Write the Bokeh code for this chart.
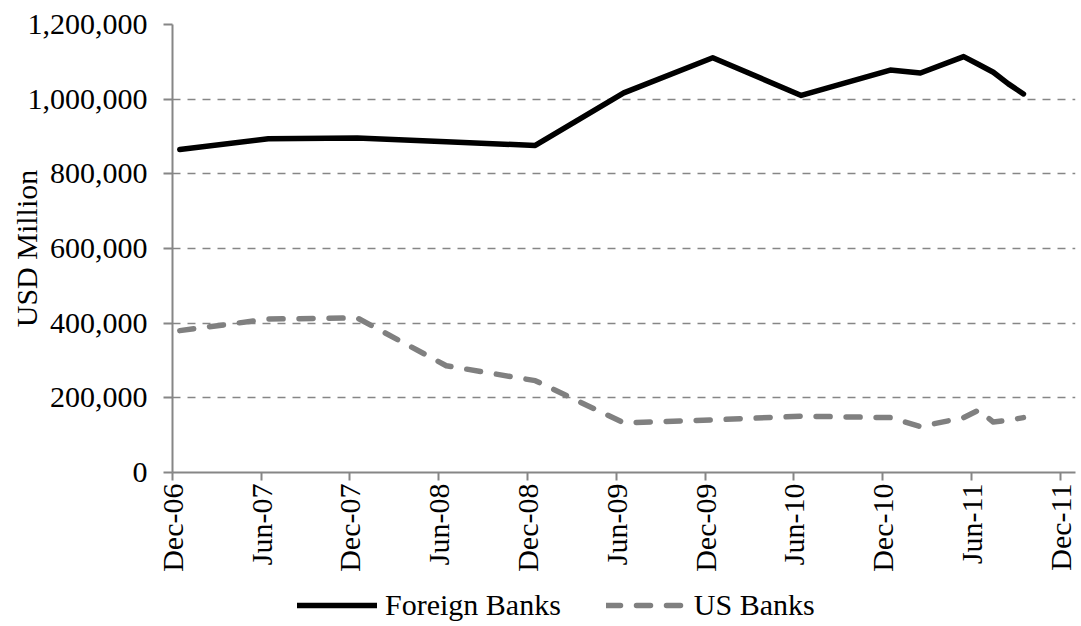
import pandas as pd
from math import pi
from bokeh.plotting import figure
from bokeh.layouts import column
from bokeh.models import (ColumnDataSource, FixedTicker, NumeralTickFormatter,
                          DatetimeTickFormatter, Range1d, Legend, LegendItem)
from bokeh.embed import file_html
from bokeh.resources import INLINE

# ---- data (USD million) ----
months = ["2006-12", "2007-06", "2007-12", "2008-06", "2008-12", "2009-06",
          "2009-12", "2010-06", "2010-12", "2011-02", "2011-05", "2011-06",
          "2011-07", "2011-08", "2011-09"]
foreign_banks = [865000, 894000, 896000, 886000, 876000, 1017000,
                 1111000, 1010000, 1078000, 1070000, 1114000, 1093000,
                 1072000, 1041000, 1014000]
us_banks = [380000, 411000, 414000, 286000, 246000, 133000,
            141000, 151000, 147000, 123000, 147000, 167000,
            135000, 140000, 147000]
tick_months = ["2006-12", "2007-06", "2007-12", "2008-06", "2008-12", "2009-06",
               "2009-12", "2010-06", "2010-12", "2011-06", "2011-12"]
y_ticks = [0, 200000, 400000, 600000, 800000, 1000000, 1200000]
series_names = ["Foreign Banks", "US Banks"]
series_cols = ["fb", "us"]

dates = pd.to_datetime([m + "-16" for m in months])
src = ColumnDataSource(dict(x=dates, fb=foreign_banks, us=us_banks))

FONT = "Liberation Serif"
FS = "30px"
GRAY = "#868686"
STYLES = [dict(line_color="black", line_width=5.5, line_join="round", line_cap="round"),
          dict(line_color="#808080", line_width=5.5, line_dash="14 16",
               line_join="round", line_cap="round")]

p = figure(x_axis_type="datetime", output_backend="svg", toolbar_location=None,
           width=1081, height=580,
           min_border_left=172, min_border_top=24, min_border_right=6,
           min_border_bottom=108)
p.x_range = Range1d(pd.Timestamp("2006-12-01"), pd.Timestamp("2012-01-01"))
p.y_range = Range1d(0, 1200000)
p.outline_line_color = None
p.background_fill_color = "white"
p.border_fill_color = "white"

for col, st in zip(series_cols, STYLES):
    p.line("x", col, source=src, **st)

# axes
tick_ms = [pd.Timestamp(m + "-01").value / 1e6 for m in tick_months]
p.xaxis.ticker = FixedTicker(ticks=tick_ms)
fmt = "%b-%y"
p.xaxis.formatter = DatetimeTickFormatter(days=fmt, months=fmt, years=fmt,
                                          hours=fmt, minutes=fmt)
p.xaxis.major_label_orientation = pi / 2
p.yaxis.ticker = FixedTicker(ticks=y_ticks)
p.yaxis.formatter = NumeralTickFormatter(format="0,0")
p.yaxis.axis_label = "USD Million"

for ax in (p.xaxis, p.yaxis):
    ax.axis_line_color = GRAY
    ax.axis_line_width = 2
    ax.major_tick_line_color = GRAY
    ax.major_tick_line_width = 2
    ax.major_tick_in = 0
    ax.minor_tick_line_color = None
    ax.major_label_text_font = FONT
    ax.major_label_text_font_size = FS
    ax.major_label_text_color = "black"
    ax.axis_label_text_font = FONT
    ax.axis_label_text_font_size = FS
    ax.axis_label_text_font_style = "normal"
    ax.axis_label_text_color = "black"
p.xaxis.major_tick_out = 8
p.yaxis.major_tick_out = 9
p.xaxis.major_label_standoff = 3
p.yaxis.major_label_standoff = 16
p.yaxis.axis_label_standoff = -18

p.xgrid.grid_line_color = None
p.ygrid.grid_line_color = GRAY
p.ygrid.grid_line_width = 1.5
p.ygrid.grid_line_dash = "8 7"

# legend strip below the chart (its lines fall outside this strip's ranges)
lp = figure(output_backend="svg", toolbar_location=None, width=1081, height=46,
            min_border=0, x_range=Range1d(0, 1), y_range=Range1d(0, 1))
lp.axis.visible = False
lp.grid.grid_line_color = None
lp.outline_line_color = None
lp.border_fill_color = "white"
items = []
for name, col, st in zip(series_names, series_cols, STYLES):
    r = lp.line("x", col, source=src, **st)
    items.append(LegendItem(label=name, renderers=[r]))
legend = Legend(items=items, orientation="horizontal", location=(125, 4),
                border_line_color=None, background_fill_alpha=0,
                label_text_font=FONT, label_text_font_size=FS,
                label_text_color="black",
                glyph_width=80, glyph_height=20, label_standoff=8,
                spacing=45, margin=0, padding=0)
lp.add_layout(legend, "center")

layout = column(p, lp, spacing=0)
open("out.html", "w").write(file_html(layout, INLINE))
